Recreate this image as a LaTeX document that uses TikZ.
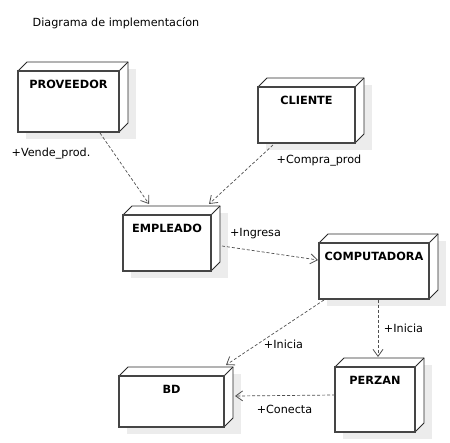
\documentclass[tikz,border=0pt]{standalone}
\usepackage{fontspec}
\setmainfont{DejaVu Sans}
\usetikzlibrary{arrows.meta,calc}
\definecolor{shadowc}{HTML}{ECECEC}
\definecolor{frontc}{HTML}{454545}
\definecolor{edgec}{HTML}{2A2A2A}
\definecolor{arrowc}{HTML}{505050}
\tikzset{
  frontbox/.style={draw=frontc, line width=1.7pt, fill=white, rectangle, inner sep=0pt, outer sep=0pt},
  edge3d/.style={draw=edgec, line width=0.8pt, fill=white, line join=miter},
  nodetitle/.style={font=\fontsize{11.3}{13}\selectfont\bfseries, anchor=mid, inner sep=0pt},
  plaintext/.style={font=\fontsize{11.2}{13}\selectfont, anchor=mid, inner sep=0pt},
  depend/.style={draw=arrowc, line width=0.7pt, dash pattern=on 3pt off 2pt,
    -{Straight Barb[length=7pt,width=10pt,line width=0.8pt]}},
}
\newcommand\dplnode[6]{%
  \fill[shadowc] (#2+8,#3-2) rectangle (#4+17,#5+7);
  \filldraw[edge3d] (#2,#3) -- (#2+9,#3-9) -- (#4+9,#3-9) -- (#4+9,#5-9) -- (#4,#5) -- (#4,#3) -- cycle;
  \draw[edge3d] (#4,#3) -- (#4+9,#3-9);
  \node[frontbox, minimum width={(#4-#2)*1pt}, minimum height={(#5-#3)*1pt}] (#1) at ({(#2+#4)/2},{(#3+#5)/2}) {};
  \node[nodetitle] (#1-t) at ([yshift=-14.5pt]#1.north) {#6};
}
\begin{document}
\begin{tikzpicture}[x=1pt,y=-1pt]
\useasboundingbox[fill=white] (0,0) rectangle (450,443);
\node[plaintext] (title) at (116,24) {Diagrama de implementacíon};
\dplnode{prov}{18}{71}{119}{132}{PROVEEDOR}
\dplnode{cli}{258}{87}{355}{143}{CLIENTE}
\dplnode{emp}{123}{215}{211}{271}{EMPLEADO}
\dplnode{comp}{319}{243}{429}{299}{COMPUTADORA}
\dplnode{bd}{119}{376}{224}{427}{BD}
\dplnode{per}{335}{367}{415}{432}{PERZAN}
\draw[depend] ($(prov.south)+(31.5,1)$) -- ($(emp.north)+(-18,-11)$);
\draw[depend] ($(cli.south)+(-33.5,2)$) -- ($(emp.north)+(42,-11)$);
\draw[depend] ($(emp.east)+(11,3)$) -- ($(comp.west)+(-1,-11)$);
\draw[depend] ($(comp.south)+(-50,1)$) -- ($(bd.north)+(54.5,-11)$);
\draw[depend] ($(comp.south)+(4,1)$) -- ($(per.north)+(3,-10)$);
\draw[depend] ($(per.west)+(0,-4.5)$) -- ($(bd.east)+(11,-5.5)$);
\node[plaintext] (l1) at (51,154) {+Vende\_prod.};
\node[plaintext] (l2) at (319,161) {+Compra\_prod};
\node[plaintext] (l3) at (255.5,234) {+Ingresa};
\node[plaintext] (l4) at (403.5,330) {+Inicia};
\node[plaintext] (l5) at (283.5,346) {+Inicia};
\node[plaintext] (l6) at (284.5,411) {+Conecta};
\end{tikzpicture}
\end{document}
